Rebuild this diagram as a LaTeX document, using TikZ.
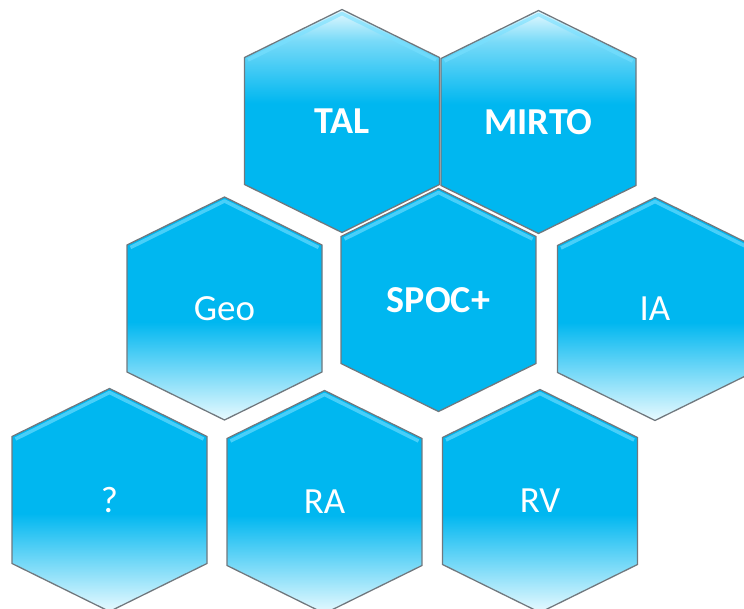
\documentclass[tikz,border=0pt]{standalone}
\usepackage{fontspec}
\setmainfont{Carlito}
\usepackage{xcolor}
\usepackage{tikz}
\usetikzlibrary{calc}

\definecolor{hexblue}{RGB}{0,183,240}
\definecolor{hexpale}{RGB}{232,250,255}
\definecolor{hexsky}{RGB}{120,218,248}
\definecolor{hexline}{RGB}{112,120,126}
\definecolor{hexbevel}{RGB}{120,224,255}

% blue on top, pale towards the bottom
\pgfdeclareverticalshading{hexlow}{100bp}{color(0bp)=(hexpale); color(25bp)=(hexpale);
  color(47bp)=(hexblue); color(100bp)=(hexblue)}
% pale on top, blue towards the bottom
\pgfdeclareverticalshading{hextop}{100bp}{color(0bp)=(hexblue); color(54bp)=(hexblue);
  color(68bp)=(hexsky); color(75bp)=(hexpale); color(100bp)=(hexpale)}
\pgfdeclareverticalshading{hexflat}{100bp}{color(0bp)=(hexblue); color(100bp)=(hexblue)}

\tikzset{
  hexedge/.style = {draw = hexline, line width = 1.1pt, line join = miter},
  hexshine/.style = {draw = hexbevel, line width = 3pt, opacity = 0.6, line join = round},
  hextext/.style = {text = white, font = \fontsize{31.5}{38}\selectfont},
  hexbold/.style = {hextext, font = \fontsize{32.5}{39}\selectfont\bfseries}
}

% #1 name, #2 x, #3 y, #4 shading, #5 text style, #6 text
\newcommand{\hexcell}[6]{%
  \shade [hexedge, shading = #4] (#2,#3) ++(0,-111.5) -- ++(97.5,48) -- ++(0,127)
    -- ++(-97.5,48) -- ++(-97.5,-48) -- ++(0,-127) -- cycle;
  \draw [hexshine] (#2,#3) ++(-94,-61) -- ++(94,-46.5) -- ++(94,46.5);
  \node [#5] (#1) at (#2,#3) {#6};
}

\begin{document}
\begin{tikzpicture}[x = 0.03cm, y = -0.03cm]
  \useasboundingbox (0,0) rectangle (744,609);
  \clip (0,0) rectangle (744,609);

  % upper cells
  \hexcell{tal}{342}{121}{hextop}{hexbold}{TAL}
  \hexcell{mirto}{538.5}{122}{hextop}{hexbold}{MIRTO}
  \hexcell{spoc}{438.5}{300}{hexflat}{hexbold}{SPOC+}

  % middle row
  \hexcell{geo}{224.5}{308.5}{hexlow}{hextext}{Geo}
  \hexcell{ia}{655}{309}{hexlow}{hextext}{IA}

  % lower row
  \hexcell{unk}{109.5}{500}{hexlow}{hextext}{?}
  \hexcell{ra}{324.5}{502}{hexlow}{hextext}{RA}
  \hexcell{rv}{540}{501}{hexlow}{hextext}{RV}
\end{tikzpicture}
\end{document}
